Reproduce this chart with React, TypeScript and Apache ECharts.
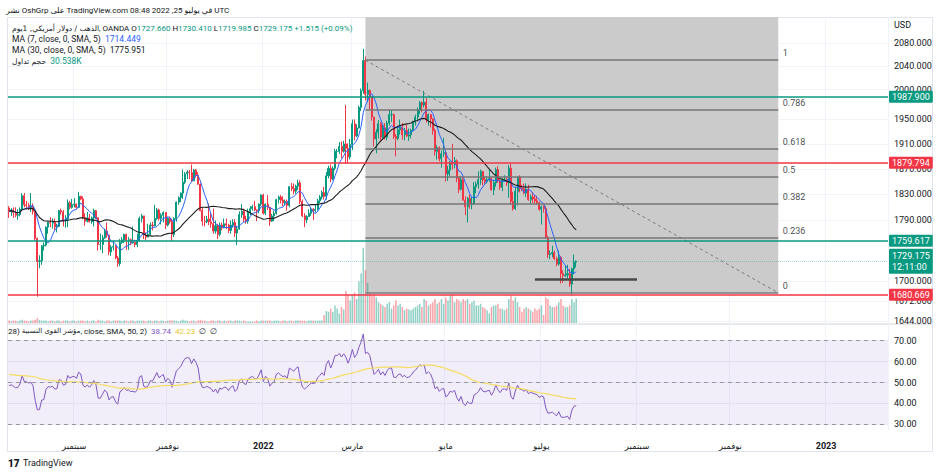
import React, { useEffect, useRef } from 'react';
import * as echarts from 'echarts';

// ---------- data ----------
const START_DATE = '2021-07-21';
const TOTAL_SLOTS = 405;
const HOLIDAYS = ['2021-12-24', '2022-04-15'];
const MONTHS_AR = ['يناير', 'فبراير', 'مارس', 'أبريل', 'مايو', 'يونيو', 'يوليو', 'أغسطس', 'سبتمبر', 'أكتوبر', 'نوفمبر', 'ديسمبر'];

const firstOpen = 1809;
const closes = [
  1804,1806,1802,1798,1799,1807,1828,1814,1813,1810,
  1812,1804,1763,1729,1730,1752,1753,1780,1787,1786,
  1788,1780,1781,1805,1803,1790,1792,1817,1810,1814,
  1815,1810,1827,1823,1794,1789,1794,1788,1794,1805,
  1794,1754,1754,1764,1774,1768,1743,1750,1751,1734,
  1726,1757,1761,1769,1760,1761,1756,1757,1754,1760,
  1793,1797,1768,1765,1769,1783,1782,1793,1806,1793,
  1798,1802,1783,1793,1788,1769,1793,1818,1825,1832,
  1849,1862,1865,1864,1851,1868,1860,1846,1805,1789,
  1788,1792,1788,1785,1774,1782,1769,1783,1779,1785,
  1783,1775,1783,1787,1771,1777,1799,1804,1792,1789,
  1803,1808,1811,1806,1805,1815,1829,1801,1815,1810,
  1789,1797,1801,1822,1826,1821,1817,1819,1813,1842,
  1839,1835,1843,1848,1819,1797,1791,1796,1801,1807,
  1805,1807,1820,1826,1833,1827,1859,1871,1854,1871,
  1898,1898,1906,1898,1910,1903,1889,1909,1943,1923,
  1936,1970,1998,2050,1992,1999,1988,1954,1918,1929,
  1943,1921,1936,1921,1944,1958,1958,1922,1919,1933,
  1937,1925,1932,1923,1925,1932,1946,1954,1966,1978,
  1974,1979,1950,1958,1951,1932,1898,1904,1886,1894,
  1896,1862,1868,1881,1877,1883,1855,1838,1853,1821,
  1811,1824,1815,1815,1842,1846,1853,1866,1853,1850,
  1853,1855,1837,1848,1869,1851,1841,1852,1853,1848,
  1871,1819,1808,1835,1857,1840,1839,1832,1838,1822,
  1826,1823,1820,1817,1807,1811,1808,1764,1739,1740,
  1742,1733,1725,1735,1711,1708,1709,1711,1696,1718,
  1727.66,1729.175
];
const highs = [
  1812,1809,1810,1810,1807,1810,1832,1832,1820,1817,
  1832,1816,1804,1764,1738,1753,1757,1781,1788,1795,
  1793,1793,1785,1806,1808,1806,1798,1822,1820,1823,
  1824,1816,1834,1828,1827,1801,1803,1800,1796,1808,
  1806,1795,1770,1768,1777,1787,1768,1753,1759,1753,
  1737,1762,1765,1770,1770,1765,1763,1781,1761,1770,
  1796,1800,1797,1772,1785,1787,1788,1814,1809,1808,
  1801,1804,1800,1795,1796,1793,1795,1819,1827,1833,
  1869,1865,1868,1868,1877,1870,1870,1865,1847,1810,
  1797,1797,1816,1801,1808,1790,1785,1787,1787,1793,
  1793,1785,1790,1792,1792,1782,1804,1815,1808,1797,
  1808,1812,1814,1820,1807,1816,1830,1831,1816,1829,
  1811,1800,1805,1823,1828,1829,1827,1822,1822,1843,
  1848,1847,1845,1853,1852,1822,1801,1798,1807,1809,
  1809,1815,1823,1829,1836,1842,1865,1875,1877,1874,
  1902,1902,1913,1914,1915,1974,1911,1918,1950,1950,
  1942,1973,2002,2070,2057,2012,2000,1989,1954,1934,
  1949,1946,1941,1944,1948,1966,1965,1960,1926,1938,
  1950,1944,1936,1941,1935,1935,1948,1958,1970,1981,
  1980,1998,1986,1960,1959,1952,1935,1908,1906,1899,
  1920,1897,1875,1883,1910,1889,1885,1858,1859,1858,
  1827,1826,1830,1826,1849,1850,1866,1869,1867,1858,
  1858,1870,1857,1853,1872,1874,1854,1856,1860,1858,
  1876,1878,1834,1842,1858,1860,1845,1847,1847,1845,
  1830,1834,1829,1828,1819,1813,1813,1812,1767,1745,
  1752,1745,1736,1745,1737,1716,1723,1724,1718,1720,
  1739,1730.41
];
const lows = [
  1794,1797,1794,1795,1791,1796,1805,1810,1807,1806,
  1803,1799,1759,1678,1719,1724,1745,1751,1770,1780,
  1778,1775,1772,1780,1799,1781,1779,1780,1807,1808,
  1810,1808,1809,1821,1792,1782,1787,1787,1785,1781,
  1792,1745,1746,1741,1762,1764,1738,1737,1745,1732,
  1721,1722,1755,1756,1746,1746,1753,1755,1750,1750,
  1758,1787,1762,1760,1765,1768,1775,1781,1791,1790,
  1784,1787,1777,1781,1785,1759,1765,1788,1814,1818,
  1823,1846,1854,1854,1850,1851,1856,1845,1804,1782,
  1781,1786,1783,1779,1770,1770,1762,1766,1775,1778,
  1777,1771,1770,1779,1765,1753,1776,1794,1788,1785,
  1785,1798,1805,1804,1789,1801,1812,1799,1798,1806,
  1782,1788,1789,1799,1816,1816,1812,1813,1805,1810,
  1835,1830,1831,1837,1815,1795,1780,1786,1797,1797,
  1791,1802,1805,1816,1822,1822,1822,1855,1849,1852,
  1868,1887,1894,1887,1896,1878,1880,1885,1900,1916,
  1921,1935,1964,1993,1982,1979,1967,1948,1906,1895,
  1919,1915,1919,1917,1916,1940,1946,1918,1890,1916,
  1925,1917,1916,1921,1915,1919,1930,1940,1947,1959,
  1962,1970,1945,1940,1937,1925,1891,1885,1882,1872,
  1889,1850,1851,1858,1869,1871,1849,1832,1836,1821,
  1798,1787,1808,1807,1814,1832,1839,1845,1844,1846,
  1847,1850,1836,1829,1842,1848,1837,1835,1850,1843,
  1825,1814,1805,1806,1813,1833,1835,1830,1826,1820,
  1816,1817,1815,1814,1805,1784,1802,1763,1734,1732,
  1735,1731,1722,1723,1697,1698,1706,1704,1692,1680.669,
  1710,1719.985
];
// volume in thousands
const volumesK = [
  3,2,3,3,2,3,4,3,3,2,
  3,3,4,6,4,3,3,3,2,3,
  3,2,3,3,2,3,3,3,2,3,
  3,2,3,3,3,2,3,2,3,3,
  2,4,3,3,2,3,3,2,3,3,
  3,3,2,3,3,2,3,3,2,3,
  3,3,3,2,3,3,2,3,3,2,
  3,3,2,3,3,3,3,3,2,3,
  4,3,3,2,3,3,2,3,4,3,
  3,2,2,3,3,2,3,3,2,3,
  2,3,3,2,3,3,3,2,3,2,
  2,2,2,2,3,2,3,3,3,3,
  3,2,3,3,3,2,3,3,2,3,
  3,2,3,3,3,3,3,2,3,3,
  3,3,3,3,3,10,15,14,18,14,
  22,18,12,20,17,40,34,28,36,38,
  30,52,62,94,66,50,38,34,36,32,
  26,24,22,20,24,26,18,22,28,22,
  24,20,16,18,17,16,18,20,22,24,
  20,30,28,22,24,26,30,24,26,30,
  24,32,28,34,36,26,30,28,26,30,
  28,30,24,26,28,22,22,24,20,18,
  16,12,20,22,22,24,18,18,16,18,
  30,34,28,32,26,20,14,18,20,18,
  16,14,18,16,18,22,10,32,30,22,
  20,20,22,26,30,22,20,20,22,30,
  26,30.538
];

const priceTicks = [1644, 1672, 1700, 1790, 1830, 1870, 1910, 1950, 2000, 2040, 2080];
const rsiTicks = [30, 40, 50, 60, 70];
const rsiBands = [30, 50, 70];
const levelValues = [1987.9, 1879.794, 1759.617, 1680.669];
const levelIsUp = [true, false, true, false];
const lastPrice = 1729.175;
const countdown = '12:11:00';
const fibHigh = 2050.5;
const fibLow = 1683.5;
const fibRatios = [0, 0.236, 0.382, 0.5, 0.618, 0.786, 1];
const fibStart = '2022-03-09';
const fibEnd = '2022-12-01';
const supportFrom = '2022-06-28';
const supportTo = '2022-09-01';
const supportPrice = 1703;
const rsiLength = 28;
const rsiMaLength = 50;
const rsiSeedGain = 5.0;
const rsiSeedLoss = 5.3;
const rsiMaSeed = 54; // value of the RSI average at the left edge

// ---------- helpers ----------
function buildDates(): string[] {
  const out: string[] = [];
  const [y, m, d] = START_DATE.split('-').map(Number);
  const cur = new Date(Date.UTC(y, m - 1, d));
  while (out.length < TOTAL_SLOTS) {
    const wd = cur.getUTCDay();
    const s = cur.toISOString().slice(0, 10);
    if (wd !== 0 && wd !== 6 && !HOLIDAYS.includes(s)) out.push(s);
    cur.setUTCDate(cur.getUTCDate() + 1);
  }
  return out;
}
function sma(arr: number[], n: number): number[] {
  return arr.map((_, i) => {
    const s = Math.max(0, i - n + 1);
    let t = 0;
    for (let k = s; k <= i; k++) t += arr[k];
    return +(t / (i - s + 1)).toFixed(3);
  });
}
function seededSma(arr: number[], n: number, seed: number): number[] {
  return arr.map((_, i) => {
    const s = Math.max(0, i - n + 1);
    let t = 0;
    for (let k = s; k <= i; k++) t += arr[k];
    const missing = n - (i - s + 1);
    return +((t + missing * seed) / n).toFixed(3);
  });
}
function rsi(cl: number[], len: number): number[] {
  let g = rsiSeedGain, l = rsiSeedLoss;
  return cl.map((c, i) => {
    if (i > 0) {
      const d = c - cl[i - 1];
      g = (g * (len - 1) + Math.max(d, 0)) / len;
      l = (l * (len - 1) + Math.max(-d, 0)) / len;
    }
    return +(100 - 100 / (1 + g / l)).toFixed(2);
  });
}

const FONT = 'Roboto, "DejaVu Sans", sans-serif';
const AR_FONT = '"DejaVu Sans", sans-serif';
const TEXT = '#131722';
const UP = '#089981';
const DOWN = '#f23645';

export default function App() {
  const ref = useRef<HTMLDivElement>(null);
  useEffect(() => {
    if (!ref.current) return;
    const chart = echarts.init(ref.current, null, { renderer: 'svg' });
    const dates = buildDates();
    const opens = closes.map((_, i) => (i === 0 ? firstOpen : closes[i - 1]));
    const ohlc = closes.map((c, i) => [opens[i], c, lows[i], highs[i]]);
    const ma7 = sma(closes, 7);
    const ma30 = sma(closes, 30);
    const rsiVals = rsi(closes, rsiLength);
    const rsiMa = seededSma(rsiVals, rsiMaLength, rsiMaSeed);
    const fibPrice = (r: number) => +(fibLow * Math.pow(fibHigh / fibLow, r)).toFixed(3);

    const isLabelDay = (i: number) => {
      if (i <= 0 || i >= dates.length) return false;
      const m = +dates[i].slice(5, 7) - 1;
      const pm = +dates[i - 1].slice(5, 7) - 1;
      return m !== pm && m % 2 === 0;
    };
    const fmtDate = (v: string) => {
      const m = +v.slice(5, 7) - 1;
      return m === 0 ? '{y|' + v.slice(0, 4) + '}' : MONTHS_AR[m];
    };

    const levelLines = levelValues.map((v, i) => ({
      yAxis: v,
      lineStyle: { color: levelIsUp[i] ? UP : DOWN, width: 1.5, type: 'solid' },
      label: {
        show: true, position: 'end', distance: 1, formatter: v.toFixed(3),
        backgroundColor: levelIsUp[i] ? UP : DOWN, color: '#fff', padding: [2, 3, 1, 3],
        fontSize: 9, fontFamily: FONT, borderRadius: 1,
      },
    }));
    const fibLines = fibRatios.map((r) => [
      { coord: [fibStart, fibPrice(r)], lineStyle: { color: '#767676', width: 1.5, type: 'solid' }, label: { show: false } },
      { coord: [fibEnd, fibPrice(r)] },
    ]);

    const ar = (size: number) => ({ fill: TEXT, font: size + 'px ' + AR_FONT });
    const lat = (size: number, color = TEXT) => ({ fill: color, font: size + 'px ' + FONT });

    const option: any = {
      animation: false,
      backgroundColor: '#ffffff',
      textStyle: { fontFamily: FONT },
      grid: [
        { left: 8, right: 52, top: 17, height: 306 },
        { left: 8, right: 52, top: 243, height: 80 },
        { left: 8, right: 52, top: 324, height: 106 },
      ],
      xAxis: [
        {
          gridIndex: 0, type: 'category', data: dates, boundaryGap: true,
          axisLine: { show: false }, axisTick: { show: false }, axisLabel: { show: false },
          splitLine: { show: true, interval: (i: number) => isLabelDay(i), lineStyle: { color: '#f0f3fa', width: 1 } },
        },
        { gridIndex: 1, type: 'category', data: dates, boundaryGap: true, show: false },
        {
          gridIndex: 2, type: 'category', data: dates, boundaryGap: true,
          axisLine: { show: false }, axisTick: { show: false },
          axisLabel: {
            interval: (i: number) => isLabelDay(i), formatter: fmtDate, margin: 11,
            color: TEXT, fontSize: 8.5, fontFamily: AR_FONT,
            rich: { y: { fontWeight: 'bold', fontSize: 9, color: TEXT, fontFamily: FONT } },
          },
          splitLine: { show: true, interval: (i: number) => isLabelDay(i), lineStyle: { color: '#f0f3fa', width: 1 } },
        },
      ],
      yAxis: [
        {
          gridIndex: 0, type: 'log', logBase: 10, min: 1641, max: 2127, position: 'right',
          axisLine: { show: false }, axisTick: { show: false, customValues: priceTicks },
          axisLabel: { customValues: priceTicks, formatter: (v: number) => v.toFixed(3), margin: 6, color: TEXT, fontSize: 9, fontFamily: FONT },
          splitLine: { show: true, lineStyle: { color: '#f3f4f8' } },
        },
        { gridIndex: 1, type: 'value', min: 0, max: 100, show: false },
        {
          gridIndex: 2, type: 'value', min: 27.3, max: 78, position: 'right',
          axisLine: { show: false }, axisTick: { show: false, customValues: rsiTicks },
          axisLabel: { customValues: rsiTicks, formatter: (v: number) => v.toFixed(2), margin: 6, color: TEXT, fontSize: 9, fontFamily: FONT },
          splitLine: { show: true, lineStyle: { color: '#eceef3' } },
        },
      ],
      series: [
        {
          type: 'candlestick', xAxisIndex: 0, yAxisIndex: 0, data: ohlc, z: 3, barWidth: '70%',
          itemStyle: { color: UP, color0: DOWN, borderColor: UP, borderColor0: DOWN, borderWidth: 1 },
          markArea: {
            silent: true, z: 1,
            itemStyle: { color: '#cbcbcb' },
            data: [[{ coord: [fibStart, 2127] }, { coord: [fibEnd, fibLow] }]],
          },
          markLine: {
            silent: true, symbol: ['none', 'none'], z: 5,
            data: [
              ...fibLines,
              [
                { coord: [fibStart, fibHigh], lineStyle: { color: '#787b86', width: 1, type: [3, 3] }, label: { show: false } },
                { coord: [fibEnd, fibLow] },
              ],
              [
                { coord: [supportFrom, supportPrice], lineStyle: { color: '#4a4a4a', width: 2.5, type: 'solid' }, label: { show: false } },
                { coord: [supportTo, supportPrice] },
              ],
              ...levelLines,
              {
                yAxis: lastPrice,
                lineStyle: { color: 'rgba(8,153,129,0.35)', width: 1, type: 'dotted' },
                label: {
                  show: true, position: 'end', distance: 1, formatter: lastPrice.toFixed(3) + '\n' + countdown,
                  backgroundColor: UP, color: '#fff', padding: [2, 3, 1, 3], lineHeight: 11,
                  fontSize: 9, fontFamily: FONT, borderRadius: 1,
                },
              },
            ],
          },
        },
        {
          type: 'line', xAxisIndex: 0, yAxisIndex: 0, data: ma7, showSymbol: false, z: 4,
          lineStyle: { color: '#2962ff', width: 1 }, silent: true,
        },
        {
          type: 'line', xAxisIndex: 0, yAxisIndex: 0, data: ma30, showSymbol: false, z: 4,
          lineStyle: { color: '#1e1e1e', width: 1.1 }, silent: true,
        },
        {
          type: 'scatter', xAxisIndex: 0, yAxisIndex: 0, symbolSize: 1, z: 5,
          itemStyle: { color: 'rgba(0,0,0,0)' },
          data: fibRatios.map((r) => ({ value: [fibEnd, fibPrice(r)], label: { formatter: String(r) } })),
          label: { show: true, position: 'right', distance: 4, offset: [0, -7], color: TEXT, fontSize: 9, fontFamily: FONT },
        },
        {
          type: 'bar', xAxisIndex: 1, yAxisIndex: 1, barWidth: '70%', z: 2,
          data: volumesK.map((v, i) => ({
            value: v,
            itemStyle: { color: closes[i] >= opens[i] ? 'rgba(8,153,129,0.45)' : 'rgba(242,54,69,0.45)' },
          })),
        },
        {
          type: 'line', xAxisIndex: 2, yAxisIndex: 2, data: rsiVals, showSymbol: false, z: 4,
          lineStyle: { color: '#7e57c2', width: 1 },
          markArea: { silent: true, z: 1, itemStyle: { color: 'rgba(126,87,194,0.1)' }, data: [[{ yAxis: 30 }, { yAxis: 70 }]] },
          markLine: {
            silent: true, symbol: ['none', 'none'], label: { show: false },
            lineStyle: { color: '#9598a1', width: 1, type: [4, 4] },
            data: rsiBands.map((b) => ({ yAxis: b })),
          },
        },
        {
          type: 'line', xAxisIndex: 2, yAxisIndex: 2, data: rsiMa, showSymbol: false, z: 4,
          lineStyle: { color: '#f5dc5c', width: 1.2 },
        },
      ],
      graphic: [
        { type: 'rect', silent: true, z: -1, shape: { x: 7.5, y: 17.5, width: 925, height: 434 }, style: { fill: 'none', stroke: '#e0e3eb', lineWidth: 1 } },
        { type: 'line', silent: true, shape: { x1: 7.5, y1: 324, x2: 932.5, y2: 324 }, style: { stroke: '#d1d4dc', lineWidth: 1 } },
        { type: 'text', z: 100, x: 6, y: 10, style: { text: 'نشر OshGrp على TradingView.com في يوليو 25, 2022 08:48 UTC', fill: TEXT, font: '8px ' + FONT, verticalAlign: 'middle' } },
        {
          type: 'text', z: 100, x: 12, y: 28,
          style: {
            text: '{a|الذهب / دولار أمريكي, 1يوم}{t|, OANDA }{t|O}{v|1727.660} {t|H}{v|1730.410} {t|L}{v|1719.985} {t|C}{v|1729.175} {v|+1.515 (+0.09%)}',
            verticalAlign: 'middle', fill: TEXT, font: '8px ' + FONT,
            rich: { a: ar(7.5), t: lat(8), v: lat(8, UP) },
          },
        },
        { type: 'text', z: 100, x: 12, y: 39, style: { text: 'MA (7, close, 0, SMA, 5)  {b|1714.449}', fill: TEXT, font: '8.5px ' + FONT, verticalAlign: 'middle', rich: { b: lat(8.5, '#2962ff') } } },
        { type: 'text', z: 100, x: 12, y: 50, style: { text: 'MA (30, close, 0, SMA, 5)  1775.951', fill: TEXT, font: '8.5px ' + FONT, verticalAlign: 'middle' } },
        { type: 'text', z: 100, x: 12, y: 61, style: { text: '{a|حجم تداول}  {g|30.538K}', fill: TEXT, font: '8.5px ' + FONT, verticalAlign: 'middle', rich: { a: ar(7.5), g: lat(8.5, UP) } } },
        { type: 'text', z: 100, x: 894, y: 25, style: { text: 'USD', fill: TEXT, font: '9px ' + FONT, verticalAlign: 'middle' } },
        {
          type: 'text', z: 100, x: 8, y: 331,
          style: {
            text: '{t|28) }{a|مؤشر القوى النسبية}{t|, close, SMA, 50, 2)}  {p|38.74}  {yl|42.23}  {t|∅  ∅}',
            fill: TEXT, font: '8px ' + FONT, verticalAlign: 'middle',
            rich: { t: lat(8), a: ar(7), p: lat(8, '#7e57c2'), yl: lat(8, '#e8c72e') },
          },
        },
        { type: 'text', z: 100, x: 8, y: 463, style: { text: '17', fill: '#131722', font: '900 10px ' + FONT, verticalAlign: 'middle' } },
        { type: 'text', z: 100, x: 23, y: 463, style: { text: 'TradingView', fill: '#131722', font: '9px ' + FONT, verticalAlign: 'middle' } },
      ],
    };
    chart.setOption(option);
    return () => chart.dispose();
  }, []);
  return <div ref={ref} style={{ position: 'fixed', left: 0, top: 0, width: 940, height: 475, background: '#fff' }} />;
}
